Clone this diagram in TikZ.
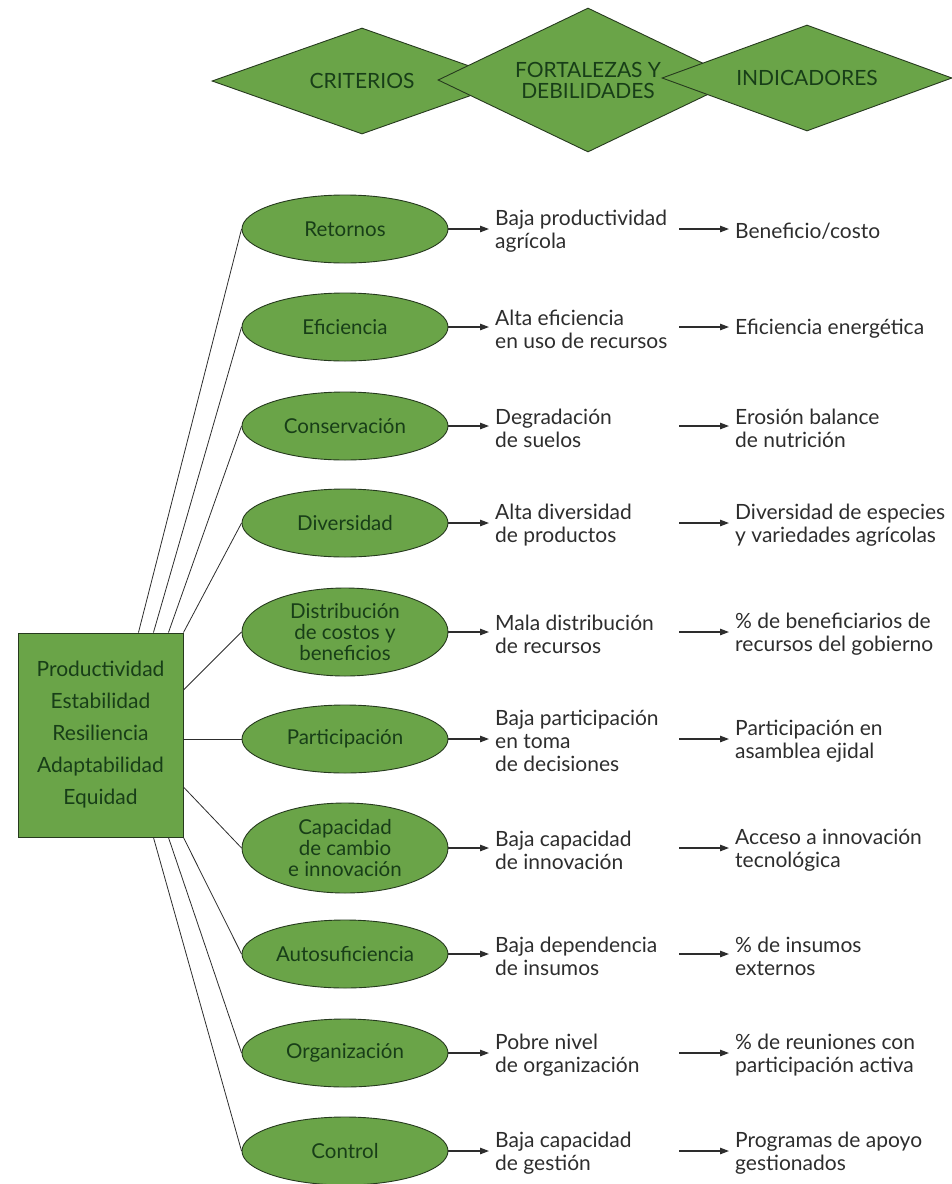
\documentclass[tikz,border=0pt]{standalone}
\usepackage{fontspec}
\setmainfont{Lato}
\usetikzlibrary{shapes.geometric, arrows.meta}
\definecolor{hoja}{RGB}{106,164,72}
\definecolor{borde}{RGB}{38,58,30}
\definecolor{verdetxt}{RGB}{24,62,24}
\definecolor{tinta}{RGB}{45,45,45}

\begin{document}
\begin{tikzpicture}[x=1pt, y=-1pt,
    rombo/.style={diamond, draw=borde, line width=0.9pt, fill=hoja, aspect=2, inner sep=0pt, text=verdetxt, align=center, font=\fontsize{21}{21}\selectfont},
    crit/.style={ellipse, draw=borde, line width=0.9pt, fill=hoja, minimum width=206pt, inner sep=-2pt, text=verdetxt, align=center, font=\fontsize{20.5}{21}\selectfont},
    txt/.style={anchor=west, inner xsep=6pt, inner ysep=0pt, text=tinta, align=left, font=\fontsize{21}{23}\selectfont},
    liga/.style={draw=tinta, line width=0.8pt},
    flecha/.style={draw=tinta, line width=1.2pt, -{Triangle[length=9pt,width=6.5pt]}}]

    \useasboundingbox (0,0) rectangle (951,1184);

    \node (crit) [rombo, minimum width=300pt, minimum height=106pt] at (362,81) {CRITERIOS};
    \node (fort) [rombo, minimum width=300pt, minimum height=144pt] at (588,80) {FORTALEZAS Y\\DEBILIDADES};
    \node (indi) [rombo, minimum width=290pt, minimum height=106pt] at (807,78) {INDICADORES};

    \node (atrib) [draw=borde, line width=0.9pt, fill=hoja, minimum width=165pt, minimum height=204pt, text=verdetxt, align=center, font=\fontsize{21}{32}\selectfont] at (100.5,735) {Productividad\\Estabilidad\\Resiliencia\\Adaptabilidad\\Equidad};

    \foreach \yy/\hh/\txtc/\txtf/\txti [count=\n] in {
        229/68/Retornos/{Baja productividad\\agrícola}/{Beneficio/costo},
        327/68/Eficiencia/{Alta eficiencia\\en uso de recursos}/{Eficiencia energética},
        426/68/Conservación/{Degradación\\de suelos}/{Erosión balance\\de nutrición},
        523/68/Diversidad/{Alta diversidad\\de productos}/{Diversidad de especies\\y variedades agrícolas},
        632/88/{Distribución\\de costos y\\beneficios}/{Mala distribución\\de recursos}/{\% de beneficiarios de\\recursos del gobierno},
        739/68/Participación/{Baja participación\\en toma\\de decisiones}/{Participación en\\asamblea ejidal},
        848/90/{Capacidad\\de cambio\\e innovación}/{Baja capacidad\\de innovación}/{Acceso a innovación\\tecnológica},
        954/68/Autosuficiencia/{Baja dependencia\\de insumos}/{\% de insumos\\externos},
        1053/68/Organización/{Pobre nivel\\de organización}/{\% de reuniones con\\participación activa},
        1151/68/Control/{Baja capacidad\\de gestión}/{Programas de apoyo\\gestionados}}{
        \node (c\n) [crit, minimum height=\hh pt] at (345,\yy) {\txtc};
        \node (f\n) [txt] at (489,\yy+2) {\txtf};
        \node (i\n) [txt] at (729,\yy+2) {\txti};
        \draw[flecha] (c\n.east) -- (c\n.east -| f\n.west);
        \draw[flecha] ([xshift=-50pt]i\n.west |- c\n.east) -- (i\n.west |- c\n.east);
    }

    \draw[liga] ([xshift=-45pt]atrib.north east) -- (c1.west);
    \draw[liga] ([xshift=-30pt]atrib.north east) -- (c2.west);
    \draw[liga] ([xshift=-15pt]atrib.north east) -- (c3.west);
    \draw[liga] (atrib.north east) -- (c4.west);
    \draw[liga] ([yshift=45pt]atrib.east) -- (c5.west);
    \draw[liga] ([yshift=-4pt]atrib.east) -- (c6.west);
    \draw[liga] ([yshift=-52pt]atrib.east) -- (c7.west);
    \draw[liga] (atrib.south east) -- (c8.west);
    \draw[liga] ([xshift=-15pt]atrib.south east) -- (c9.west);
    \draw[liga] ([xshift=-30pt]atrib.south east) -- (c10.west);
\end{tikzpicture}
\end{document}
